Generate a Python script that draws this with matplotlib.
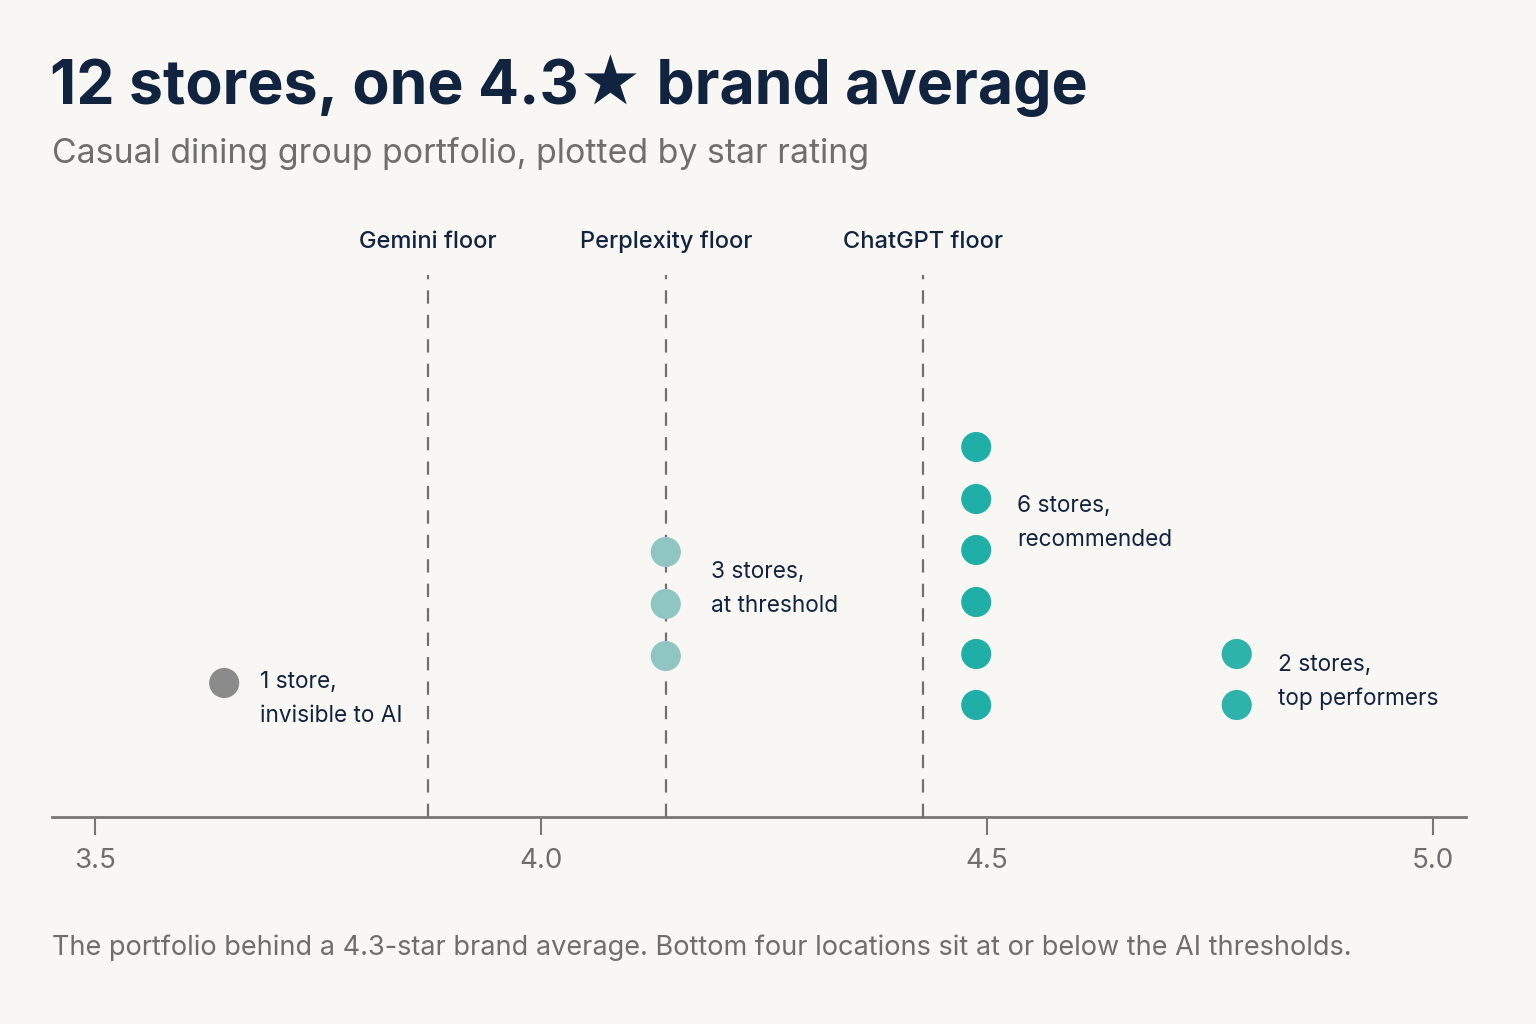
# Star-rating strip chart for a 12 store portfolio

import matplotlib.pyplot as plt

plt.rcParams['font.family'] = ['Inter', 'DejaVu Sans']

# Data
group_labels = ['1 store,\ninvisible to AI', '3 stores,\nat threshold',
                '6 stores,\nrecommended', '2 stores,\ntop performers']
group_ratings = [3.645, 4.14, 4.488, 4.78]
# stacked heights of the dots in each group (arbitrary units above the axis)
group_heights = [[1.34],
                 [1.61, 2.13, 2.65],
                 [1.12, 1.63, 2.15, 2.67, 3.18, 3.70],
                 [1.12, 1.63]]
group_colors = ['#8b8b8b', '#8fc6c1', '#1fafa6', '#2db3aa']

floor_names = ['Gemini floor', 'Perplexity floor', 'ChatGPT floor']
floor_values = [3.873, 4.14, 4.428]

tick_values = [3.5, 4.0, 4.5, 5.0]
tick_labels = ['3.5', '4.0', '4.5', '5.0']

bg = '#f8f7f4'
navy = '#10233f'
grey_text = '#6e6e6e'

fig = plt.figure(figsize=(15.36, 10.24), dpi=100, facecolor=bg)
ax = fig.add_axes([52 / 1536, 1 - 817 / 1024, (1466 - 52) / 1536, (817 - 230) / 1024])
ax.set_facecolor(bg)
ax.set_xlim(3.452, 5.037)
ax.set_ylim(0, 5.87)

# AI floors
for name, v in zip(floor_names, floor_values):
    ax.plot([v, v], [0, 5.42], color='#707070', lw=1.6,
            dashes=(6, 5), zorder=1)
    ax.text(v, 5.75, name, ha='center', va='center', fontsize=17,
            color=navy, fontweight='medium')

# stores
label_y = [1.18, 2.28, 2.94, 1.35]
label_dx = [0.040, 0.051, 0.046, 0.046]
for lab, r, hs, c, ly, dx in zip(group_labels, group_ratings, group_heights,
                                 group_colors, label_y, label_dx):
    ax.scatter([r] * len(hs), hs, s=470, color=c, edgecolor='none', zorder=3)
    ax.text(r + dx, ly, lab, ha='left', va='center', fontsize=16.3,
            color=navy, linespacing=1.7)

# axis
for s in ['top', 'right', 'left']:
    ax.spines[s].set_visible(False)
ax.spines['bottom'].set_color('#777777')
ax.spines['bottom'].set_linewidth(2)
ax.set_yticks([])
ax.set_xticks(tick_values)
ax.set_xticklabels(tick_labels)
ax.tick_params(axis='x', length=13, width=1.5, color='#777777',
               labelsize=20, labelcolor=grey_text, pad=9)

# titles
fig.text(50 / 1536, 1 - 86 / 1024, '12 stores, one 4.3\u2605 brand average',
         fontsize=43.8, fontweight='bold', color=navy, va='center',
         family=['Inter', 'DejaVu Sans'])
fig.text(52 / 1536, 1 - 153 / 1024,
         'Casual dining group portfolio, plotted by star rating',
         fontsize=24.4, color=grey_text, va='center')
fig.text(52 / 1536, 1 - 948 / 1024,
         'The portfolio behind a 4.3-star brand average. Bottom four locations '
         'sit at or below the AI thresholds.',
         fontsize=19.5, color=grey_text, va='center')

plt.savefig('out.png', dpi=100, facecolor=bg)
